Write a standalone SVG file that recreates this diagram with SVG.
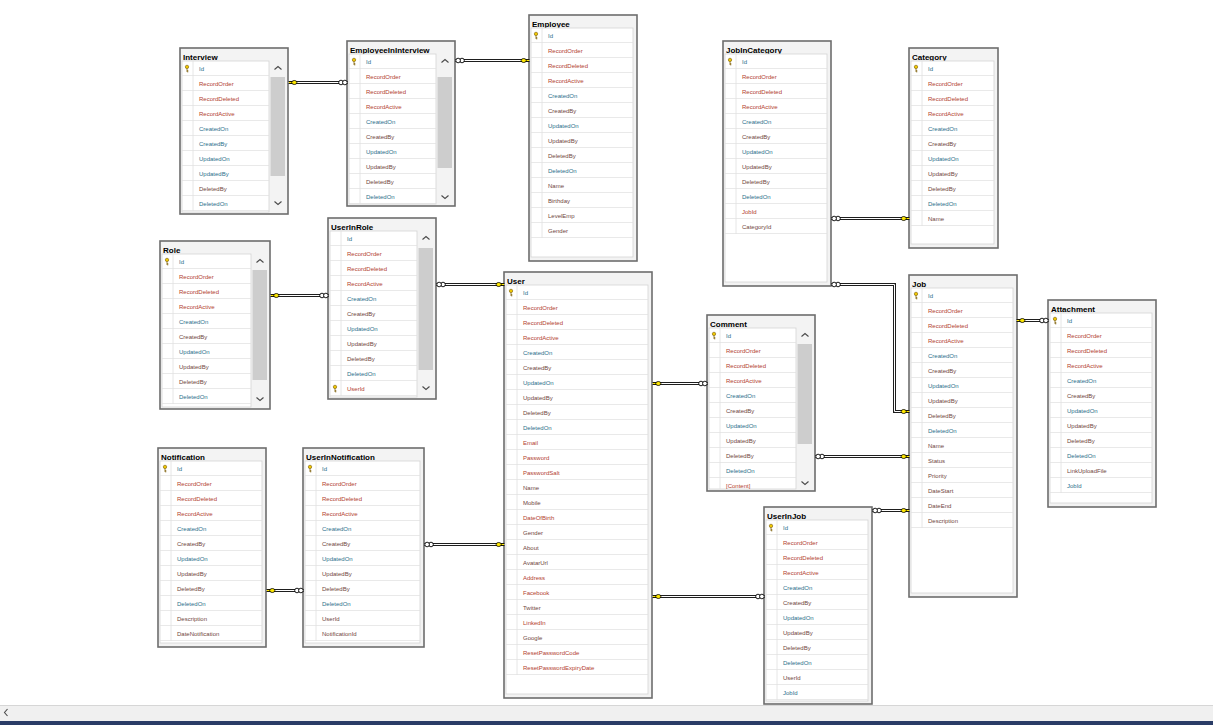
<svg xmlns="http://www.w3.org/2000/svg" width="1213" height="725" viewBox="0 0 1213 725">
<style>
.box{fill:#f3f3f3;stroke:#6d6d6d;stroke-width:1.6}
.ttl{font:bold 8px "Liberation Sans",Arial,sans-serif;fill:#000}
.grid{fill:#fff;stroke:#d4d4d4;stroke-width:0.8}
.rows{fill:url(#rows)}
.kc{stroke:#e0e0e0;stroke-width:0.8;fill:none}
.c text{font:6px "Liberation Sans",Arial,sans-serif}
.r{fill:#b2402f}.t{fill:#2c6f8c}.b{fill:#70463e}
.sb{fill:#fff}.th{fill:#cdcdcd}
.chev{fill:none;stroke:#4a4a4a;stroke-width:1.1}
.ro{fill:none;stroke:#1e1e1e;stroke-width:3}
.ri{fill:none;stroke:#fff;stroke-width:1}
</style>
<defs>
<pattern id="rows" patternUnits="userSpaceOnUse" x="0" y="13" width="400" height="15">
<path d="M0 14.6H400" stroke="#e1e1e1" stroke-width="0.8"/>
</pattern>
<g id="pk"><circle cx="0" cy="-1.6" r="1.7" fill="#f0c800" stroke="#7a5a00" stroke-width="0.6"/><path d="M0 0.1V3.4M0 2.2H1.3M0 3.3H1.3" stroke="#7a5a00" stroke-width="0.8" fill="none"/></g>
<g id="kR"><path d="M0.5 0H4" stroke="#000" stroke-width="2.8"/><path d="M0.5 0H4" stroke="#ffe800" stroke-width="1.2"/><ellipse cx="5.8" cy="0" rx="2.6" ry="2" fill="#ffe800" stroke="#000" stroke-width="0.8"/></g>
<g id="kL" transform="scale(-1,1)"><path d="M0.5 0H4" stroke="#000" stroke-width="2.8"/><path d="M0.5 0H4" stroke="#ffe800" stroke-width="1.2"/><ellipse cx="5.8" cy="0" rx="2.6" ry="2" fill="#ffe800" stroke="#000" stroke-width="0.8"/></g>
<g id="oR"><circle cx="6.5" cy="0" r="2.3" fill="#fff" stroke="#000" stroke-width="0.9"/><circle cx="2.6" cy="0" r="2.3" fill="#fff" stroke="#000" stroke-width="0.9"/></g>
<g id="oL" transform="scale(-1,1)"><circle cx="6.5" cy="0" r="2.3" fill="#fff" stroke="#000" stroke-width="0.9"/><circle cx="2.6" cy="0" r="2.3" fill="#fff" stroke="#000" stroke-width="0.9"/></g>
</defs>
<rect width="1213" height="725" fill="#fff"/>

<g id="Interview" transform="translate(180,48)">
<rect class="box" width="108" height="166"/>
<text class="ttl" x="3" y="11.5">Interview</text>
<rect class="grid" x="2" y="13" width="87" height="151"/>
<rect class="rows" x="2" y="13" width="87" height="150"/>
<path class="kc" d="M13 13V163"/>
<use href="#pk" x="7" y="20.5"/>
<g class="c" transform="translate(19,0)">
<text class="t" y="22.5">Id</text><text class="r" y="37.5">RecordOrder</text><text class="r" y="52.5">RecordDeleted</text><text class="r" y="67.5">RecordActive</text><text class="t" y="82.5">CreatedOn</text><text class="t" y="97.5">CreatedBy</text><text class="t" y="112.5">UpdatedOn</text><text class="t" y="127.5">UpdatedBy</text><text class="b" y="142.5">DeletedBy</text><text class="t" y="157.5">DeletedOn</text>
</g>
<rect class="th" x="90.5" y="29" width="14.5" height="99"/>
<path class="chev" d="M94.5 21.5L98 18.5L101.5 21.5M94.5 153.5L98 156.5L101.5 153.5"/>
</g>

<g id="EmployeeInInterview" transform="translate(347,41)">
<rect class="box" width="108" height="165"/>
<text class="ttl" x="3" y="11.5">EmployeeInInterview</text>
<rect class="grid" x="2" y="13" width="87" height="150"/>
<rect class="rows" x="2" y="13" width="87" height="150"/>
<path class="kc" d="M13 13V163"/>
<use href="#pk" x="7" y="20.5"/>
<g class="c" transform="translate(19,0)">
<text class="t" y="22.5">Id</text><text class="r" y="37.5">RecordOrder</text><text class="r" y="52.5">RecordDeleted</text><text class="r" y="67.5">RecordActive</text><text class="t" y="82.5">CreatedOn</text><text class="b" y="97.5">CreatedBy</text><text class="t" y="112.5">UpdatedOn</text><text class="b" y="127.5">UpdatedBy</text><text class="b" y="142.5">DeletedBy</text><text class="t" y="157.5">DeletedOn</text>
</g>
<rect class="th" x="90.5" y="36" width="14.5" height="91"/>
<path class="chev" d="M94.5 21.5L98 18.5L101.5 21.5M94.5 154.5L98 157.5L101.5 154.5"/>
</g>

<g id="Employee" transform="translate(529,15)">
<rect class="box" width="108" height="246"/>
<text class="ttl" x="3" y="11.5">Employee</text>
<rect class="grid" x="2" y="13" width="102" height="229"/>
<rect class="rows" x="2" y="13" width="102" height="210"/>
<path class="kc" d="M13 13V223"/>
<use href="#pk" x="7" y="20.5"/>
<g class="c" transform="translate(19,0)">
<text class="t" y="22.5">Id</text><text class="r" y="37.5">RecordOrder</text><text class="r" y="52.5">RecordDeleted</text><text class="r" y="67.5">RecordActive</text><text class="t" y="82.5">CreatedOn</text><text class="b" y="97.5">CreatedBy</text><text class="t" y="112.5">UpdatedOn</text><text class="b" y="127.5">UpdatedBy</text><text class="b" y="142.5">DeletedBy</text><text class="t" y="157.5">DeletedOn</text><text class="b" y="172.5">Name</text><text class="b" y="187.5">Birthday</text><text class="b" y="202.5">LevelEmp</text><text class="b" y="217.5">Gender</text>
</g>
</g>

<g id="JobInCategory" transform="translate(723,41)">
<rect class="box" width="108" height="245"/>
<text class="ttl" x="3" y="11.5">JobInCategory</text>
<rect class="grid" x="2" y="13" width="102" height="228"/>
<rect class="rows" x="2" y="13" width="102" height="180"/>
<path class="kc" d="M13 13V193"/>
<use href="#pk" x="7" y="20.5"/>
<g class="c" transform="translate(19,0)">
<text class="t" y="22.5">Id</text><text class="r" y="37.5">RecordOrder</text><text class="r" y="52.5">RecordDeleted</text><text class="r" y="67.5">RecordActive</text><text class="t" y="82.5">CreatedOn</text><text class="b" y="97.5">CreatedBy</text><text class="t" y="112.5">UpdatedOn</text><text class="b" y="127.5">UpdatedBy</text><text class="b" y="142.5">DeletedBy</text><text class="t" y="157.5">DeletedOn</text><text class="r" y="172.5">JobId</text><text class="b" y="187.5">CategoryId</text>
</g>
</g>

<g id="Category" transform="translate(909,48)">
<rect class="box" width="89" height="200"/>
<text class="ttl" x="3" y="11.5">Category</text>
<rect class="grid" x="2" y="13" width="83" height="183"/>
<rect class="rows" x="2" y="13" width="83" height="165"/>
<path class="kc" d="M13 13V178"/>
<use href="#pk" x="7" y="20.5"/>
<g class="c" transform="translate(19,0)">
<text class="t" y="22.5">Id</text><text class="r" y="37.5">RecordOrder</text><text class="r" y="52.5">RecordDeleted</text><text class="r" y="67.5">RecordActive</text><text class="t" y="82.5">CreatedOn</text><text class="b" y="97.5">CreatedBy</text><text class="t" y="112.5">UpdatedOn</text><text class="b" y="127.5">UpdatedBy</text><text class="b" y="142.5">DeletedBy</text><text class="t" y="157.5">DeletedOn</text><text class="b" y="172.5">Name</text>
</g>
</g>

<g id="Role" transform="translate(160,241)">
<rect class="box" width="110" height="168"/>
<text class="ttl" x="3" y="11.5">Role</text>
<rect class="grid" x="2" y="13" width="89" height="153"/>
<rect class="rows" x="2" y="13" width="89" height="150"/>
<path class="kc" d="M13 13V163"/>
<use href="#pk" x="7" y="20.5"/>
<g class="c" transform="translate(19,0)">
<text class="t" y="22.5">Id</text><text class="r" y="37.5">RecordOrder</text><text class="r" y="52.5">RecordDeleted</text><text class="r" y="67.5">RecordActive</text><text class="t" y="82.5">CreatedOn</text><text class="b" y="97.5">CreatedBy</text><text class="t" y="112.5">UpdatedOn</text><text class="b" y="127.5">UpdatedBy</text><text class="b" y="142.5">DeletedBy</text><text class="t" y="157.5">DeletedOn</text>
</g>
<rect class="th" x="92.5" y="29" width="14.5" height="110"/>
<path class="chev" d="M96.5 21.5L100 18.5L103.5 21.5M96.5 156.5L100 159.5L103.5 156.5"/>
</g>

<g id="UserInRole" transform="translate(328,218)">
<rect class="box" width="108" height="181"/>
<text class="ttl" x="3" y="11.5">UserInRole</text>
<rect class="grid" x="2" y="13" width="87" height="166"/>
<rect class="rows" x="2" y="13" width="87" height="165"/>
<path class="kc" d="M13 13V178"/>
<use href="#pk" x="7" y="170.5"/>
<g class="c" transform="translate(19,0)">
<text class="t" y="22.5">Id</text><text class="r" y="37.5">RecordOrder</text><text class="r" y="52.5">RecordDeleted</text><text class="r" y="67.5">RecordActive</text><text class="t" y="82.5">CreatedOn</text><text class="b" y="97.5">CreatedBy</text><text class="t" y="112.5">UpdatedOn</text><text class="b" y="127.5">UpdatedBy</text><text class="b" y="142.5">DeletedBy</text><text class="t" y="157.5">DeletedOn</text><text class="r" y="172.5">UserId</text>
</g>
<rect class="th" x="90.5" y="30" width="14.5" height="122"/>
<path class="chev" d="M94.5 21.5L98 18.5L101.5 21.5M94.5 168.5L98 171.5L101.5 168.5"/>
</g>

<g id="User" transform="translate(504,272)">
<rect class="box" width="148" height="426"/>
<text class="ttl" x="3" y="11.5">User</text>
<rect class="grid" x="2" y="13" width="142" height="409"/>
<rect class="rows" x="2" y="13" width="142" height="390"/>
<path class="kc" d="M13 13V403"/>
<use href="#pk" x="7" y="20.5"/>
<g class="c" transform="translate(19,0)">
<text class="t" y="22.5">Id</text><text class="r" y="37.5">RecordOrder</text><text class="r" y="52.5">RecordDeleted</text><text class="r" y="67.5">RecordActive</text><text class="t" y="82.5">CreatedOn</text><text class="b" y="97.5">CreatedBy</text><text class="t" y="112.5">UpdatedOn</text><text class="b" y="127.5">UpdatedBy</text><text class="b" y="142.5">DeletedBy</text><text class="t" y="157.5">DeletedOn</text><text class="r" y="172.5">Email</text><text class="r" y="187.5">Password</text><text class="r" y="202.5">PasswordSalt</text><text class="b" y="217.5">Name</text><text class="b" y="232.5">Mobile</text><text class="r" y="247.5">DateOfBirth</text><text class="b" y="262.5">Gender</text><text class="b" y="277.5">About</text><text class="b" y="292.5">AvatarUrl</text><text class="r" y="307.5">Address</text><text class="r" y="322.5">Facebook</text><text class="b" y="337.5">Twitter</text><text class="r" y="352.5">LinkedIn</text><text class="b" y="367.5">Google</text><text class="r" y="382.5">ResetPasswordCode</text><text class="r" y="397.5">ResetPasswordExpiryDate</text>
</g>
</g>

<g id="Comment" transform="translate(707,315)">
<rect class="box" width="108" height="176"/>
<text class="ttl" x="3" y="11.5">Comment</text>
<rect class="grid" x="2" y="13" width="87" height="161"/>
<rect class="rows" x="2" y="13" width="87" height="161"/>
<path class="kc" d="M13 13V174"/>
<use href="#pk" x="7" y="20.5"/>
<g class="c" transform="translate(19,0)">
<text class="t" y="22.5">Id</text><text class="r" y="37.5">RecordOrder</text><text class="r" y="52.5">RecordDeleted</text><text class="r" y="67.5">RecordActive</text><text class="t" y="82.5">CreatedOn</text><text class="b" y="97.5">CreatedBy</text><text class="t" y="112.5">UpdatedOn</text><text class="b" y="127.5">UpdatedBy</text><text class="b" y="142.5">DeletedBy</text><text class="t" y="157.5">DeletedOn</text><text class="r" y="172.5">[Content]</text>
</g>
<rect class="th" x="90.5" y="29" width="14.5" height="100"/>
<path class="chev" d="M94.5 21.5L98 18.5L101.5 21.5M94.5 166.5L98 169.5L101.5 166.5"/>
</g>

<g id="Job" transform="translate(909,275)">
<rect class="box" width="108" height="322"/>
<text class="ttl" x="3" y="11.5">Job</text>
<rect class="grid" x="2" y="13" width="102" height="305"/>
<rect class="rows" x="2" y="13" width="102" height="240"/>
<path class="kc" d="M13 13V253"/>
<use href="#pk" x="7" y="20.5"/>
<g class="c" transform="translate(19,0)">
<text class="t" y="22.5">Id</text><text class="r" y="37.5">RecordOrder</text><text class="r" y="52.5">RecordDeleted</text><text class="r" y="67.5">RecordActive</text><text class="t" y="82.5">CreatedOn</text><text class="b" y="97.5">CreatedBy</text><text class="t" y="112.5">UpdatedOn</text><text class="b" y="127.5">UpdatedBy</text><text class="b" y="142.5">DeletedBy</text><text class="t" y="157.5">DeletedOn</text><text class="b" y="172.5">Name</text><text class="b" y="187.5">Status</text><text class="b" y="202.5">Priority</text><text class="b" y="217.5">DateStart</text><text class="b" y="232.5">DateEnd</text><text class="b" y="247.5">Description</text>
</g>
</g>

<g id="Attachment" transform="translate(1048,300)">
<rect class="box" width="108" height="207"/>
<text class="ttl" x="3" y="11.5">Attachment</text>
<rect class="grid" x="2" y="13" width="102" height="190"/>
<rect class="rows" x="2" y="13" width="102" height="180"/>
<path class="kc" d="M13 13V193"/>
<use href="#pk" x="7" y="20.5"/>
<g class="c" transform="translate(19,0)">
<text class="t" y="22.5">Id</text><text class="r" y="37.5">RecordOrder</text><text class="r" y="52.5">RecordDeleted</text><text class="r" y="67.5">RecordActive</text><text class="t" y="82.5">CreatedOn</text><text class="b" y="97.5">CreatedBy</text><text class="t" y="112.5">UpdatedOn</text><text class="b" y="127.5">UpdatedBy</text><text class="b" y="142.5">DeletedBy</text><text class="t" y="157.5">DeletedOn</text><text class="b" y="172.5">LinkUploadFile</text><text class="t" y="187.5">JobId</text>
</g>
</g>

<g id="Notification" transform="translate(158,448)">
<rect class="box" width="108" height="199"/>
<text class="ttl" x="3" y="11.5">Notification</text>
<rect class="grid" x="2" y="13" width="102" height="182"/>
<rect class="rows" x="2" y="13" width="102" height="180"/>
<path class="kc" d="M13 13V193"/>
<use href="#pk" x="7" y="20.5"/>
<g class="c" transform="translate(19,0)">
<text class="t" y="22.5">Id</text><text class="r" y="37.5">RecordOrder</text><text class="r" y="52.5">RecordDeleted</text><text class="r" y="67.5">RecordActive</text><text class="t" y="82.5">CreatedOn</text><text class="b" y="97.5">CreatedBy</text><text class="t" y="112.5">UpdatedOn</text><text class="b" y="127.5">UpdatedBy</text><text class="b" y="142.5">DeletedBy</text><text class="t" y="157.5">DeletedOn</text><text class="b" y="172.5">Description</text><text class="b" y="187.5">DateNotification</text>
</g>
</g>

<g id="UserInNotification" transform="translate(303,448)">
<rect class="box" width="121" height="199"/>
<text class="ttl" x="3" y="11.5">UserInNotification</text>
<rect class="grid" x="2" y="13" width="115" height="182"/>
<rect class="rows" x="2" y="13" width="115" height="180"/>
<path class="kc" d="M13 13V193"/>
<use href="#pk" x="7" y="20.5"/>
<g class="c" transform="translate(19,0)">
<text class="t" y="22.5">Id</text><text class="r" y="37.5">RecordOrder</text><text class="r" y="52.5">RecordDeleted</text><text class="r" y="67.5">RecordActive</text><text class="t" y="82.5">CreatedOn</text><text class="b" y="97.5">CreatedBy</text><text class="t" y="112.5">UpdatedOn</text><text class="b" y="127.5">UpdatedBy</text><text class="b" y="142.5">DeletedBy</text><text class="t" y="157.5">DeletedOn</text><text class="b" y="172.5">UserId</text><text class="b" y="187.5">NotificationId</text>
</g>
</g>

<g id="UserInJob" transform="translate(764,507)">
<rect class="box" width="108" height="197"/>
<text class="ttl" x="3" y="11.5">UserInJob</text>
<rect class="grid" x="2" y="13" width="102" height="181"/>
<rect class="rows" x="2" y="13" width="102" height="180"/>
<path class="kc" d="M13 13V193"/>
<use href="#pk" x="7" y="20.5"/>
<g class="c" transform="translate(19,0)">
<text class="t" y="22.5">Id</text><text class="r" y="37.5">RecordOrder</text><text class="r" y="52.5">RecordDeleted</text><text class="r" y="67.5">RecordActive</text><text class="t" y="82.5">CreatedOn</text><text class="b" y="97.5">CreatedBy</text><text class="t" y="112.5">UpdatedOn</text><text class="b" y="127.5">UpdatedBy</text><text class="b" y="142.5">DeletedBy</text><text class="t" y="157.5">DeletedOn</text><text class="b" y="172.5">UserId</text><text class="t" y="187.5">JobId</text>
</g>
</g>

<g id="connectors" transform="translate(0.5,0.5)">
<path class="ro" d="M288 82H347M455 60H529M270 295H328M436 284H504M652 383H707M815 456H909M831 218H909M831 284H894V411H909M1016 320H1048M266 590H303M424 544H504M652 596H764M872 510H909"/>
<path class="ri" d="M288 82H347M455 60H529M270 295H328M436 284H504M652 383H707M815 456H909M831 218H909M831 284H894V411H909M1016 320H1048M266 590H303M424 544H504M652 596H764M872 510H909"/>
<use href="#kR" x="288" y="82"/><use href="#oL" x="347" y="82"/>
<use href="#oR" x="455" y="60"/><use href="#kL" x="529" y="60"/>
<use href="#kR" x="270" y="295"/><use href="#oL" x="328" y="295"/>
<use href="#oR" x="436" y="284"/><use href="#kL" x="504" y="284"/>
<use href="#kR" x="652" y="383"/><use href="#oL" x="707" y="383"/>
<use href="#oR" x="815" y="456"/><use href="#kL" x="909" y="456"/>
<use href="#oR" x="831" y="218"/><use href="#kL" x="909" y="218"/>
<use href="#oR" x="831" y="284"/><use href="#kL" x="909" y="411"/>
<use href="#kR" x="1016" y="320"/><use href="#oL" x="1048" y="320"/>
<use href="#kR" x="266" y="590"/><use href="#oL" x="303" y="590"/>
<use href="#oR" x="424" y="544"/><use href="#kL" x="504" y="544"/>
<use href="#kR" x="652" y="596"/><use href="#oL" x="764" y="596"/>
<use href="#oR" x="872" y="510"/><use href="#kL" x="909" y="510"/>
</g>

<rect x="0" y="705" width="1213" height="16" fill="#f0f0f0"/>
<path d="M0 705.5H1213" stroke="#d6d6d6" stroke-width="1"/>
<path class="chev" d="M7.5 709L4.5 712.5L7.5 716"/>
<rect x="0" y="721" width="1213" height="4" fill="#2a3c66"/>
</svg>
